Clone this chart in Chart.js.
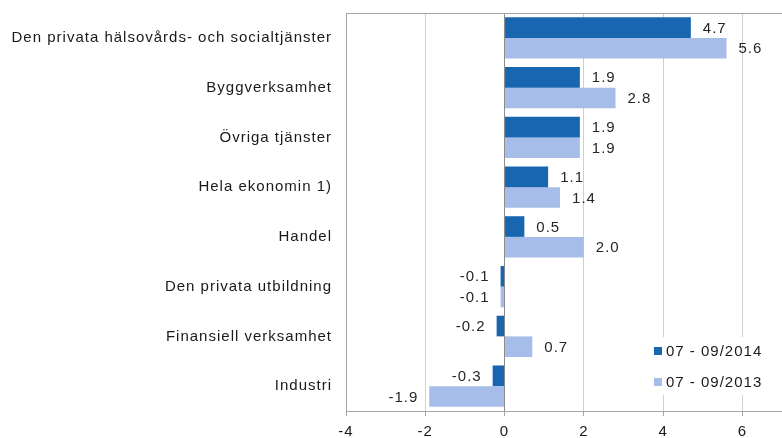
<!DOCTYPE html>
<html>
<head>
<meta charset="utf-8">
<script src="https://cdn.jsdelivr.net/npm/chart.js@4.4.0/dist/chart.umd.min.js"></script>
<style>
html,body{margin:0;padding:0;background:#fff;}
#wrap{width:782px;height:438px;}
</style>
</head>
<body>
<div id="wrap"><canvas id="c" width="782" height="438"></canvas></div>
<script>
const categories = [
  'Den privata hälsovårds- och socialtjänster',
  'Byggverksamhet',
  'Övriga tjänster',
  'Hela ekonomin 1)',
  'Handel',
  'Den privata utbildning',
  'Finansiell verksamhet',
  'Industri'
];
const seriesLabels = ['07 - 09/2014', '07 - 09/2013'];
const values2014 = [4.7, 1.9, 1.9, 1.1, 0.5, -0.1, -0.2, -0.3];
const values2013 = [5.6, 2.8, 1.9, 1.4, 2.0, -0.1, 0.7, -1.9];
const xTicks = [-4, -2, 0, 2, 4, 6];

const FONT = 'Liberation Sans, Arial, sans-serif';
const LS = '1px';

const spacingPlugin = {
  id: 'spacing',
  beforeUpdate(chart) { chart.ctx.letterSpacing = LS; },
  beforeLayout(chart) { chart.ctx.letterSpacing = LS; },
  beforeDraw(chart) { chart.ctx.letterSpacing = LS; }
};

const extrasPlugin = {
  id: 'extras',
  afterDraw(chart) {
    const ctx = chart.ctx;
    const a = chart.chartArea;
    ctx.save();
    ctx.letterSpacing = LS;
    // top border
    ctx.strokeStyle = '#a6a6a6';
    ctx.lineWidth = 1;
    ctx.beginPath();
    ctx.moveTo(a.left, a.top + 0.5);
    ctx.lineTo(a.right, a.top + 0.5);
    ctx.stroke();
    // value labels
    ctx.font = '15px ' + FONT;
    ctx.fillStyle = '#262626';
    ctx.textBaseline = 'middle';
    chart.data.datasets.forEach((ds, di) => {
      const meta = chart.getDatasetMeta(di);
      meta.data.forEach((el, i) => {
        const v = ds.data[i];
        const txt = v.toFixed(1);
        if (v >= 0) {
          ctx.textAlign = 'left';
          ctx.fillText(txt, el.x + 12, el.y + 1);
        } else {
          ctx.textAlign = 'right';
          ctx.fillText(txt, el.x - 11, el.y + 1);
        }
      });
    });
    // legend inside plot
    const bx = a.right - 136, by = a.bottom - 74;
    ctx.fillStyle = '#ffffff';
    ctx.fillRect(bx, by, 124, 58);
    chart.data.datasets.forEach((ds, di) => {
      const y = by + 14 + di * 31;
      ctx.fillStyle = ds.backgroundColor;
      ctx.fillRect(bx + 8, y - 4, 8, 8);
      ctx.fillStyle = '#1a1a1a';
      ctx.textAlign = 'left';
      ctx.fillText(ds.label, bx + 20, y + 1);
    });
    ctx.restore();
  }
};

Chart.defaults.font.family = FONT;
Chart.defaults.font.size = 15;
Chart.defaults.color = '#1a1a1a';

new Chart(document.getElementById('c'), {
  type: 'bar',
  data: {
    labels: categories,
    datasets: [
      { label: seriesLabels[0], data: values2014, backgroundColor: '#1866B0' },
      { label: seriesLabels[1], data: values2013, backgroundColor: '#A7BDE9' }
    ]
  },
  options: {
    indexAxis: 'y',
    responsive: false,
    animation: false,
    devicePixelRatio: 1,
    layout: { padding: { top: 13, right: 0, left: 0, bottom: 0 } },
    datasets: { bar: { categoryPercentage: 0.83, barPercentage: 1.0 } },
    plugins: { legend: { display: false }, tooltip: { enabled: false } },
    scales: {
      x: {
        min: -4, max: 7,
        afterBuildTicks(scale) { scale.ticks = xTicks.map(v => ({ value: v })); },
        ticks: { padding: 7, color: '#1a1a1a', font: { size: 15 } },
        grid: {
          color: ctx => (ctx.tick && ctx.tick.value === 0) ? '#8c8c8c' : '#cfcfcf',
          tickColor: '#a6a6a6',
          tickLength: 5,
          lineWidth: 1
        },
        border: { color: '#a6a6a6' },
        afterFit(scale) { scale.height = 27; scale.paddingLeft = 0; scale.paddingRight = 0; }
      },
      y: {
        ticks: { padding: 14, color: '#1a1a1a', font: { size: 15 } },
        grid: { display: false, drawTicks: false },
        border: { display: true, color: '#a6a6a6' },
        afterFit(scale) { scale.width = 346; scale.paddingTop = 0; scale.paddingBottom = 0; }
      }
    }
  },
  plugins: [spacingPlugin, extrasPlugin]
});
</script>
</body>
</html>
